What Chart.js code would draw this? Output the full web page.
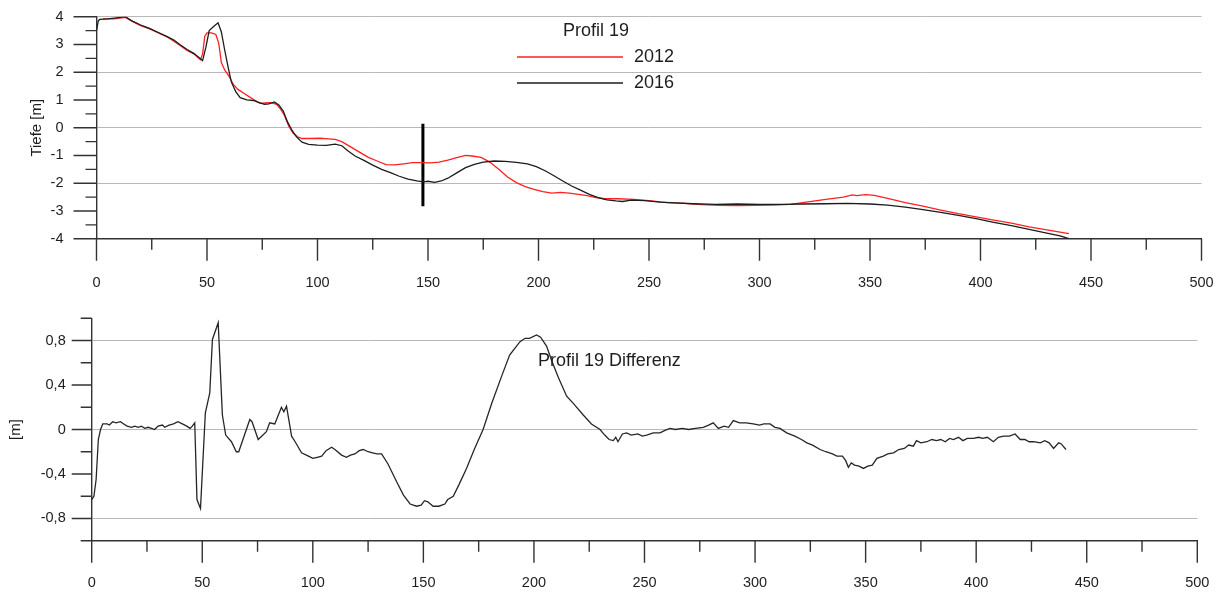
<!DOCTYPE html>
<html>
<head>
<meta charset="utf-8">
<script src="https://cdn.jsdelivr.net/npm/chart.js@4"></script>
<style>
  html, body { margin: 0; padding: 0; background: #fff; }
  #wrap { position: relative; width: 1228px; height: 592px; }
  canvas { position: absolute; left: 0; }
  #profile { top: 0; }
  #diff { top: 296px; }
</style>
</head>
<body>
<div id="wrap">
  <canvas id="profile" width="1228" height="296"></canvas>
  <canvas id="diff" width="1228" height="296"></canvas>
</div>
<script>
// Profil 19 – survey 2016 (distance [m], depth [m])
const dist2016 = [0, 0.8, 1.5, 5, 9, 13, 16, 20, 24, 28, 32, 35, 38, 41, 44, 46.5, 48, 49.5, 51, 53, 55, 56.5, 58, 59.5, 61, 63, 65, 68, 71, 73, 76, 78, 80.5, 82.5, 84.5, 86.5, 88.5, 90.5, 93, 96, 100, 104, 108, 111, 114, 117, 121, 125, 129, 133, 137, 141, 145, 148, 150, 153, 156, 159, 163, 167, 171, 175, 180, 185, 190, 195, 199, 203, 207, 211, 215, 219, 223, 227, 231, 235, 238, 242, 248, 255, 262, 270, 280, 290, 300, 310, 320, 330, 340, 350, 358, 366, 374, 382, 390, 398, 406, 414, 422, 430, 436, 440];
const depth2016 = [3.5, 3.85, 3.9, 3.92, 3.96, 4.0, 3.85, 3.7, 3.58, 3.43, 3.28, 3.16, 2.98, 2.82, 2.68, 2.52, 2.42, 2.9, 3.5, 3.65, 3.78, 3.45, 2.8, 2.2, 1.65, 1.3, 1.08, 1.0, 0.98, 0.92, 0.84, 0.86, 0.93, 0.82, 0.6, 0.2, -0.1, -0.33, -0.52, -0.6, -0.63, -0.64, -0.59, -0.65, -0.85, -1.02, -1.18, -1.35, -1.5, -1.62, -1.75, -1.85, -1.92, -1.95, -1.93, -1.97, -1.92, -1.82, -1.63, -1.44, -1.32, -1.24, -1.2, -1.21, -1.25, -1.3, -1.4, -1.55, -1.73, -1.92, -2.1, -2.25, -2.4, -2.52, -2.6, -2.64, -2.66, -2.61, -2.63, -2.68, -2.71, -2.74, -2.76, -2.75, -2.76, -2.76, -2.75, -2.74, -2.73, -2.75, -2.79, -2.86, -2.95, -3.05, -3.16, -3.28, -3.41, -3.53, -3.66, -3.8, -3.9, -4.0];

// Profil 19 – survey 2012
const dist2012 = [3, 8, 13, 16, 20, 24, 28, 32, 35, 38, 41, 44, 47, 48, 49, 50, 52, 54, 55.3, 56.5, 58, 60, 62, 64, 66.5, 69, 71.5, 74, 76, 79, 81.5, 83, 85, 87, 89, 91, 93, 97, 101, 105, 108, 111, 115, 119, 123, 127, 131, 135, 139, 143, 147, 151, 155, 159, 163, 167, 170, 174, 178, 182, 186, 190, 194, 198, 202, 206, 210, 214, 218, 222, 226, 230, 236, 243, 250, 258, 266, 274, 282, 290, 298, 306, 314, 322, 330, 338, 342, 344, 348, 352, 358, 366, 374, 382, 390, 398, 406, 414, 422, 430, 436, 440];
const depth2012 = [3.92, 3.92, 3.98, 3.84, 3.68, 3.56, 3.42, 3.27, 3.12, 2.95, 2.78, 2.66, 2.45, 2.65, 3.3, 3.42, 3.42, 3.36, 3.05, 2.35, 2.08, 1.85, 1.55, 1.38, 1.25, 1.12, 1.0, 0.88, 0.89, 0.9, 0.84, 0.7, 0.45, 0.05, -0.2, -0.33, -0.39, -0.39, -0.38, -0.4, -0.42, -0.5, -0.69, -0.88, -1.07, -1.2, -1.33, -1.34, -1.3, -1.26, -1.26, -1.27, -1.24, -1.17, -1.08, -1.0, -1.02, -1.07, -1.24, -1.5, -1.78, -1.98, -2.12, -2.22, -2.3, -2.36, -2.33, -2.36, -2.4, -2.45, -2.52, -2.56, -2.56, -2.58, -2.63, -2.7, -2.73, -2.77, -2.8, -2.81, -2.8, -2.79, -2.76, -2.67, -2.58, -2.5, -2.42, -2.45, -2.41, -2.44, -2.55, -2.7, -2.83, -2.97, -3.1, -3.21, -3.33, -3.44, -3.57, -3.68, -3.76, -3.82];

// vertical marker at station ~148 m
const markerDist = [147.7, 147.7];
const markerDepth = [0.14, -2.83];

// difference 2016 - 2012
const distDiff = [0, 1, 2, 3, 4, 5, 7, 8, 9.5, 11, 13, 14.5, 16, 18, 19.5, 21, 22.5, 24, 25.5, 27, 28.5, 30, 32, 33, 35, 37, 39, 41, 43, 44.5, 45.5, 46.6, 47.6, 49.2, 51.4, 53.4, 54.6, 57.2, 59.1, 60.6, 63.2, 65.4, 66.5, 71.5, 72.5, 75.3, 79, 80.5, 82.8, 85.8, 86.9, 88.1, 90.4, 92, 94.9, 98, 100, 102, 104, 106, 108.5, 110, 113, 115.2, 117, 119, 121, 122.8, 125, 127, 129, 131.1, 134, 137.9, 141, 144, 146.9, 149, 150.5, 152, 154.4, 157, 159.7, 161, 163.5, 166, 169.5, 173, 177, 181, 185.4, 189, 193.7, 196, 198, 201.2, 203, 205.7, 208, 211, 214.8, 218, 222.3, 226, 229.9, 232, 234, 235.9, 237, 238, 240, 241.9, 244, 247, 249, 251, 254, 257, 259, 261.5, 264, 267, 270, 273, 276.6, 279, 281.1, 283.4, 286, 288, 290.2, 293, 296, 299.2, 302, 304, 306.8, 309, 311.3, 314.3, 318, 321, 323.4, 326, 329.4, 332, 335, 337, 339.5, 341, 342.2, 343.5, 345, 347, 349, 351, 353, 355.1, 358, 360, 362.6, 365, 367.5, 369.5, 371.6, 373, 375, 377.7, 380, 382, 384, 386, 388, 389.7, 392, 394, 396, 398.8, 401, 403, 405, 407.8, 410, 412.4, 415, 417.6, 419.9, 422, 424, 426, 429, 431, 433, 435, 437.3, 438.5, 440.6];
const valueDiff = [-0.63, -0.6, -0.45, -0.09, 0.0, 0.05, 0.05, 0.04, 0.07, 0.06, 0.07, 0.05, 0.03, 0.02, 0.03, 0.02, 0.03, 0.01, 0.02, 0.01, 0.0, 0.03, 0.04, 0.02, 0.04, 0.05, 0.07, 0.05, 0.03, 0.01, 0.03, 0.06, -0.63, -0.71, 0.15, 0.33, 0.81, 0.96, 0.13, -0.05, -0.11, -0.2, -0.2, 0.09, 0.07, -0.09, -0.02, 0.06, 0.05, 0.2, 0.16, 0.21, -0.06, -0.11, -0.21, -0.24, -0.26, -0.25, -0.24, -0.19, -0.16, -0.18, -0.23, -0.25, -0.23, -0.22, -0.19, -0.18, -0.2, -0.21, -0.22, -0.22, -0.31, -0.47, -0.59, -0.67, -0.69, -0.68, -0.64, -0.65, -0.69, -0.69, -0.67, -0.63, -0.6, -0.5, -0.35, -0.18, 0.0, 0.24, 0.48, 0.67, 0.79, 0.82, 0.82, 0.85, 0.83, 0.75, 0.62, 0.47, 0.3, 0.23, 0.13, 0.05, 0.0, -0.05, -0.09, -0.1, -0.07, -0.11, -0.04, -0.03, -0.05, -0.04, -0.06, -0.05, -0.03, -0.03, -0.01, 0.01, 0.0, 0.01, 0.0, 0.01, 0.02, 0.04, 0.06, 0.01, 0.03, 0.02, 0.08, 0.06, 0.06, 0.05, 0.04, 0.05, 0.05, 0.02, 0.01, -0.03, -0.06, -0.09, -0.12, -0.14, -0.18, -0.2, -0.22, -0.24, -0.24, -0.28, -0.34, -0.3, -0.32, -0.33, -0.35, -0.33, -0.32, -0.26, -0.24, -0.22, -0.21, -0.18, -0.17, -0.14, -0.15, -0.1, -0.12, -0.11, -0.09, -0.1, -0.09, -0.11, -0.08, -0.09, -0.07, -0.1, -0.08, -0.08, -0.07, -0.08, -0.07, -0.11, -0.07, -0.06, -0.06, -0.04, -0.09, -0.09, -0.11, -0.11, -0.12, -0.1, -0.12, -0.17, -0.12, -0.13, -0.18];

const FONT = 'Liberation Sans, Arial, sans-serif';
const AXIS_COLOR = '#333';
const GRID_COLOR = '#b8b8b8';
const TEXT_COLOR = '#1e1e1e';

const toPoints = (xs, ys) => xs.map((x, i) => ({ x, y: ys[i] }));
const isMultiple = (v, step) => Math.abs(v / step - Math.round(v / step)) < 1e-6;
const commaLabel = (v) => (Math.abs(v) < 1e-9 ? '0' : v.toFixed(1).replace('.', ','));

// the big label padding would otherwise push the plot area inwards
const fixX = (h) => (s) => { s.height = h; s.paddingLeft = 0; s.paddingRight = 0; };
const fixY = (w) => (s) => { s.width = w; s.paddingTop = 0; s.paddingBottom = 0; };

// tick marks of varying length, drawn outside the plot area
const tickMarks = {
  id: 'tickMarks',
  afterDraw(chart, args, opts) {
    const { ctx, chartArea, scales: { x, y } } = chart;
    ctx.save();
    ctx.strokeStyle = AXIS_COLOR;
    ctx.lineWidth = 1.4;
    ctx.beginPath();
    x.ticks.forEach(t => {
      const px = x.getPixelForValue(t.value);
      const len = isMultiple(t.value, opts.xMajor) ? 22 : 11;
      ctx.moveTo(px, chartArea.bottom);
      ctx.lineTo(px, chartArea.bottom + len);
    });
    y.ticks.forEach(t => {
      const py = y.getPixelForValue(t.value);
      const len = isMultiple(t.value, opts.yMajor) ? opts.yMajorLen : 11;
      ctx.moveTo(chartArea.left - len, py);
      ctx.lineTo(chartArea.left, py);
    });
    ctx.stroke();
    ctx.restore();
  }
};

// free text and a hand-placed legend
const captions = {
  id: 'captions',
  afterDraw(chart, args, opts) {
    const { ctx } = chart;
    ctx.save();
    ctx.font = opts.font;
    ctx.fillStyle = TEXT_COLOR;
    ctx.textBaseline = 'middle';
    (opts.texts || []).forEach(t => {
      ctx.textAlign = t.align || 'left';
      ctx.fillText(t.text, t.x, t.y);
    });
    (opts.legend || []).forEach(item => {
      const ds = chart.data.datasets[item.dataset];
      ctx.strokeStyle = ds.borderColor;
      ctx.lineWidth = ds.borderWidth;
      ctx.beginPath();
      ctx.moveTo(item.x, item.y);
      ctx.lineTo(item.x + item.len, item.y);
      ctx.stroke();
      ctx.textAlign = 'left';
      ctx.fillText(ds.label, item.x + item.len + 11, item.y);
    });
    ctx.restore();
  }
};

Chart.defaults.font.family = FONT;
Chart.defaults.color = TEXT_COLOR;

new Chart(document.getElementById('profile'), {
  type: 'line',
  data: {
    datasets: [
      { label: '2016', data: toPoints(dist2016, depth2016), borderColor: '#1c1c1c', borderWidth: 1.3 },
      { label: '2012', data: toPoints(dist2012, depth2012), borderColor: '#ff2020', borderWidth: 1.3 },
      { label: 'marker', data: toPoints(markerDist, markerDepth), borderColor: '#000', borderWidth: 3 }
    ]
  },
  options: {
    responsive: false,
    animation: false,
    devicePixelRatio: 1,
    elements: { point: { radius: 0 }, line: { tension: 0 } },
    layout: { padding: { left: 0, right: 26.5, top: 16.7, bottom: 0 } },
    plugins: {
      legend: { display: false },
      tooltip: { enabled: false },
      tickMarks: { xMajor: 50, yMajor: 1, yMajorLen: 23 },
      captions: {
        font: '18px ' + FONT,
        texts: [{ text: 'Profil 19', x: 563, y: 31 }],
        legend: [
          { dataset: 1, x: 517, y: 57, len: 106 },
          { dataset: 0, x: 517, y: 83, len: 106 }
        ]
      }
    },
    scales: {
      x: {
        type: 'linear', min: 0, max: 500,
        afterFit: fixX(57.3),
        ticks: {
          stepSize: 25, autoSkip: false, maxRotation: 0, padding: 35.5,
          font: { size: 14.5 },
          callback: (v) => (isMultiple(v, 50) ? String(v) : '')
        },
        grid: { display: true, drawTicks: false, color: 'transparent' },
        border: { display: true, color: AXIS_COLOR, width: 1.4 }
      },
      y: {
        min: -4, max: 4,
        afterFit: fixY(96.5),
        ticks: {
          stepSize: 0.5, autoSkip: false, padding: 33,
          font: { size: 14.5 },
          callback: (v) => (isMultiple(v, 1) ? String(v) : '')
        },
        grid: {
          drawTicks: false, lineWidth: 1,
          color: (c) => (c.tick && isMultiple(c.tick.value, 2) ? GRID_COLOR : 'transparent')
        },
        border: { display: true, color: AXIS_COLOR, width: 1.4 },
        title: { display: true, text: 'Tiefe [m]', font: { size: 15 }, padding: { top: 28, bottom: 0 } }
      }
    }
  },
  plugins: [tickMarks, captions]
});

new Chart(document.getElementById('diff'), {
  type: 'line',
  data: {
    datasets: [
      { label: 'Profil 19 Differenz', data: toPoints(distDiff, valueDiff), borderColor: '#262626', borderWidth: 1.3 }
    ]
  },
  options: {
    responsive: false,
    animation: false,
    devicePixelRatio: 1,
    elements: { point: { radius: 0 }, line: { tension: 0 } },
    layout: { padding: { left: 0, right: 30.7, top: 22.3, bottom: 0 } },
    plugins: {
      legend: { display: false },
      tooltip: { enabled: false },
      tickMarks: { xMajor: 50, yMajor: 0.4, yMajorLen: 20 },
      captions: {
        font: '18px ' + FONT,
        texts: [{ text: 'Profil 19 Differenz', x: 538, y: 65 }]
      }
    },
    scales: {
      x: {
        type: 'linear', min: 0, max: 500,
        afterFit: fixX(51.3),
        ticks: {
          stepSize: 25, autoSkip: false, maxRotation: 0, padding: 34,
          font: { size: 14.5 },
          callback: (v) => (isMultiple(v, 50) ? String(v) : '')
        },
        grid: { display: true, drawTicks: false, color: 'transparent' },
        border: { display: true, color: AXIS_COLOR, width: 1.4 }
      },
      y: {
        min: -1, max: 1,
        afterFit: fixY(91.7),
        ticks: {
          stepSize: 0.2, autoSkip: false, padding: 26,
          font: { size: 14.5 },
          callback: (v) => (isMultiple(v, 0.4) ? commaLabel(v) : '')
        },
        grid: {
          drawTicks: false, lineWidth: 1,
          color: (c) => (c.tick && isMultiple(c.tick.value, 0.8) ? GRID_COLOR : 'transparent')
        },
        border: { display: true, color: AXIS_COLOR, width: 1.4 },
        title: { display: true, text: '[m]', font: { size: 15 }, padding: { top: 7, bottom: 0 } }
      }
    }
  },
  plugins: [tickMarks, captions]
});
</script>
</body>
</html>
